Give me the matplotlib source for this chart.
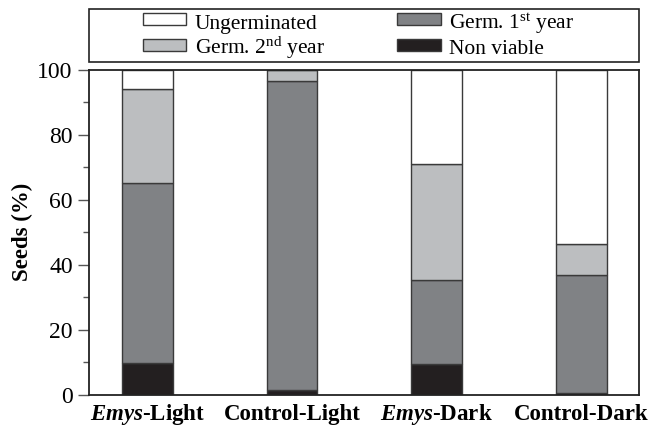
import matplotlib
matplotlib.use("Agg")
import matplotlib.pyplot as plt
from matplotlib.patches import Rectangle
import numpy as np

plt.rcParams['font.family'] = ['Liberation Serif', 'DejaVu Serif']
plt.rcParams['mathtext.fontset'] = 'custom'
plt.rcParams['mathtext.rm'] = 'Liberation Serif'
plt.rcParams['mathtext.it'] = 'Liberation Serif:italic'
plt.rcParams['mathtext.bf'] = 'Liberation Serif:bold'
plt.rcParams['mathtext.bfit'] = 'Liberation Serif:italic:bold'

categories = [r'$\mathbfit{Emys}$-Light', 'Control-Light', r'$\mathbfit{Emys}$-Dark', 'Control-Dark']
non_viable = [9.7, 1.4, 9.5, 0.5]
germ_1st = [55.6, 95.3, 25.8, 36.3]
germ_2nd = [28.7, 3.3, 35.7, 9.5]
ungerminated = [6.0, 0.0, 29.0, 53.7]
legend_labels = ['Ungerminated', r'Germ. 1$^{\mathrm{st}}$ year', r'Germ. 2$^{\mathrm{nd}}$ year', 'Non viable']

colors = {'ung': '#ffffff', 'g1': '#808285', 'g2': '#bcbec0', 'nv': '#231f20'}
edge = '#3a3a3a'

W, H = 653, 429
fig = plt.figure(figsize=(W / 100, H / 100), dpi=100)
ax = fig.add_axes([89.3 / W, 1 - 394.7 / H, 550 / W, 324.7 / H])

x = np.arange(len(categories))
w = 0.35
b0 = np.zeros(len(x))
h_nv = ax.bar(x, non_viable, w, bottom=b0, color=colors['nv'], edgecolor=edge, linewidth=1.0)
b1 = b0 + np.array(non_viable)
h_g1 = ax.bar(x, germ_1st, w, bottom=b1, color=colors['g1'], edgecolor=edge, linewidth=1.0)
b2 = b1 + np.array(germ_1st)
h_g2 = ax.bar(x, germ_2nd, w, bottom=b2, color=colors['g2'], edgecolor=edge, linewidth=1.0)
b3 = b2 + np.array(germ_2nd)
h_un = ax.bar(x, ungerminated, w, bottom=b3, color=colors['ung'], edgecolor=edge, linewidth=1.0)

ax.set_xlim(-0.40, 3.40)
ax.set_ylim(0, 100)
ax.set_yticks(np.arange(0, 101, 20))
ax.set_yticks(np.arange(0, 101, 10), minor=True)
ax.tick_params(axis='y', which='major', length=8, width=1, direction='out', labelsize=17,
               pad=4, colors='#555555', labelcolor='black')
ax.tick_params(axis='y', which='minor', length=4.5, width=1, direction='out', colors='#555555')
ax.set_xticks(x)
ax.set_xticklabels(categories, fontsize=16.5, fontweight='bold')
ax.tick_params(axis='x', length=0, pad=18.5)
for lbl in ax.get_xticklabels():
    lbl.set_verticalalignment('baseline')
for s in ax.spines.values():
    s.set_color('#222222')
    s.set_linewidth(1.3)
ax.set_ylabel('Seeds (%)', fontsize=16.5, fontweight='bold', labelpad=3)

# legend (drawn in figure pixel positions)
def fx(px):
    return px / W

def fy(py):
    return 1 - py / H

frame = Rectangle((fx(89.3), fy(62)), fx(639.3) - fx(89.3), fy(9.3) - fy(62),
                  transform=fig.transFigure, facecolor='white', edgecolor='#222222', linewidth=1.2)
fig.add_artist(frame)
entries = [(h_un, legend_labels[0], 142.7, 13.3, 28.5),
           (h_g1, legend_labels[1], 397.3, 13.3, 28.5),
           (h_g2, legend_labels[2], 142.7, 39.3, 53.5),
           (h_nv, legend_labels[3], 397.3, 39.3, 53.5)]
for cont, lab, hx, hy, base in entries:
    p = cont.patches[0]
    r = Rectangle((fx(hx), fy(hy + 11.4)), fx(hx + 43.5) - fx(hx), fy(hy) - fy(hy + 11.4),
                  transform=fig.transFigure, facecolor=p.get_facecolor(), edgecolor=edge, linewidth=1.0)
    fig.add_artist(r)
    fig.text(fx(hx + 52), fy(base), lab, fontsize=15.5, ha='left', va='baseline')

fig.savefig('out.png', dpi=100)
